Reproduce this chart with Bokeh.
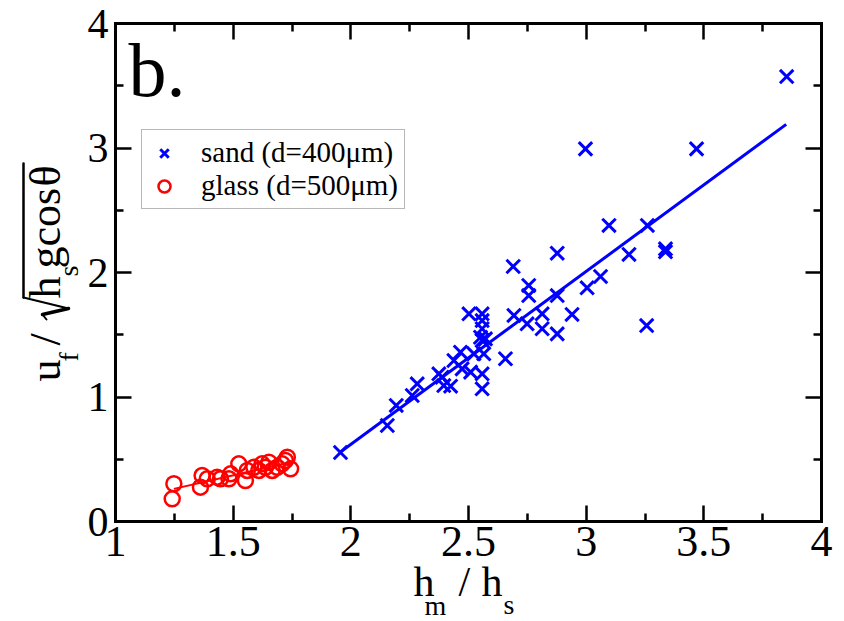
import math
from bokeh.plotting import figure
from bokeh.models import Range1d, LinearAxis, FixedTicker, Label, Legend, LegendItem, Arrow
from bokeh.embed import file_html
from bokeh.resources import INLINE

FONT = "Liberation Serif"

# ---- data ----
sand_x = [1.956, 2.155, 2.193, 2.261, 2.282, 2.374, 2.388, 2.395, 2.424, 2.438, 2.466, 2.473,
          2.509, 2.523, 2.551, 2.558, 2.572, 2.558, 2.558, 2.502, 2.558, 2.558, 2.558, 2.565,
          2.657, 2.693, 2.690, 2.749, 2.756, 2.756, 2.813, 2.813, 2.877, 2.877, 2.877, 2.940,
          2.997, 3.004, 3.061, 3.097, 3.182, 3.260, 3.257, 3.337, 3.337, 3.469, 3.852]
sand_y = [0.554, 0.771, 0.932, 1.012, 1.106, 1.186, 1.159, 1.092, 1.087, 1.293, 1.360, 1.226,
          1.200, 1.347, 1.480, 1.454, 1.467, 1.548, 1.614, 1.668, 1.668, 1.186, 1.066, 1.347,
          1.307, 1.655, 2.048, 1.588, 1.896, 1.815, 1.668, 1.548, 1.507, 1.815, 2.155, 1.663,
          2.993, 1.877, 1.968, 2.378, 2.145, 2.378, 1.574, 2.166, 2.190, 2.993, 3.574]
glass_x = [1.241, 1.248, 1.361, 1.368, 1.390, 1.432, 1.446, 1.482, 1.489, 1.524, 1.552, 1.560,
           1.588, 1.609, 1.623, 1.637, 1.652, 1.666, 1.687, 1.708, 1.722, 1.730, 1.744]
glass_y = [0.182, 0.303, 0.276, 0.369, 0.343, 0.356, 0.343, 0.343, 0.383, 0.463, 0.329, 0.410,
           0.436, 0.410, 0.463, 0.436, 0.476, 0.410, 0.436, 0.463, 0.490, 0.516, 0.423]
sand_fit_x = [1.95, 3.85]
sand_fit_y = [0.55, 3.19]
glass_fit_x = [1.248, 1.744]
glass_fit_y = [0.262, 0.476]

x_ticks = [1, 1.5, 2, 2.5, 3, 3.5, 4]
x_tick_labels = ["1", "1.5", "2", "2.5", "3", "3.5", "4"]
x_minor = [1.25, 1.75, 2.25, 2.75, 3.25, 3.75]
y_ticks = [0, 1, 2, 3, 4]
y_tick_labels = ["0", "1", "2", "3", "4"]
y_minor = [0.5, 1.5, 2.5, 3.5]
X_LO, X_HI, Y_LO, Y_HI = 1, 4, 0, 4

# ---- geometry: where the axis box sits on the 844x621 canvas ----
W, H = 844, 621
PX0, PX1, PY0, PY1 = 115, 821, 521, 23
KX = (X_HI - X_LO) / (PX1 - PX0)
KY = (Y_HI - Y_LO) / (PY0 - PY1)
def dx(px):
    return X_LO + (px - PX0) * KX
def dy(py):
    return Y_LO + (PY0 - py) * KY

p = figure(width=W, height=H, x_range=Range1d(dx(0), dx(W)), y_range=Range1d(dy(H), dy(0)),
           output_backend="svg", toolbar_location=None, min_border=0)
p.title.visible = False
p.grid.visible = False
p.outline_line_color = None
p.background_fill_color = "white"
p.border_fill_color = "white"

p.add_layout(LinearAxis(), "above")
p.add_layout(LinearAxis(), "right")

p.below[0].fixed_location = Y_LO
p.above[0].fixed_location = Y_HI
p.left[0].fixed_location = X_LO
p.right[0].fixed_location = X_HI

for ax in p.xaxis:
    ax.ticker = FixedTicker(ticks=x_ticks, minor_ticks=x_minor)
    ax.major_label_overrides = dict(zip(x_ticks, x_tick_labels))
    ax.bounds = (X_LO, X_HI)
for ax in p.yaxis:
    ax.ticker = FixedTicker(ticks=y_ticks, minor_ticks=y_minor)
    ax.major_label_overrides = dict(zip(y_ticks, y_tick_labels))
    ax.bounds = (Y_LO, Y_HI)

for ax in p.axis:
    ax.axis_line_width = 3
    ax.axis_line_color = "black"
    ax.axis_line_cap = "square"
    ax.major_tick_line_width = 2.5
    ax.minor_tick_line_width = 2.5
    ax.major_tick_in = 16
    ax.major_tick_out = 0
    ax.minor_tick_in = 8
    ax.minor_tick_out = 0
    ax.major_label_text_font = FONT
    ax.major_label_text_font_size = "44px"
    ax.major_label_text_color = "black"

p.left[0].major_label_text_font_size = "42px"
p.above[0].major_label_text_color = None
p.right[0].major_label_text_color = None
p.below[0].major_label_standoff = 5
p.left[0].major_label_standoff = 7

# ---- marks ----
p.line(sand_fit_x, sand_fit_y, line_color="blue", line_width=3)
p.line(glass_fit_x, glass_fit_y, line_color="red", line_width=2)
r_sand = p.scatter(sand_x, sand_y, marker="x", size=19, line_color="blue", line_width=3)
r_glass = p.scatter(glass_x, glass_y, marker="circle", size=15, fill_color=None,
                    line_color="red", line_width=2.5)

legend = Legend(items=[LegendItem(label="sand (d=400μm)", renderers=[r_sand]),
                       LegendItem(label="glass (d=500μm)", renderers=[r_glass])],
                location=(141, H - 209), label_text_font=FONT, label_text_font_size="29px",
                label_text_color="black", border_line_color="#707070", border_line_width=1.5,
                background_fill_alpha=1, padding=6, margin=0, spacing=0,
                glyph_width=32, glyph_height=30, label_standoff=21, label_height=30)
p.add_layout(legend)

# Label anchors sit on the middle of the text box; shift so the baseline lands where wanted
BASE = 0.3375
def lab(text, px, py, size):
    p.add_layout(Label(x=dx(px), y=dy(py - BASE * size), text=text, text_font=FONT,
                       text_font_size=f"{size}px", text_align="left",
                       text_baseline="alphabetic", text_color="black"))

def vlab(text, base_px, start_py, size):
    p.add_layout(Label(x=dx(base_px - BASE * size), y=dy(start_py), text=text, text_font=FONT,
                       text_font_size=f"{size}px", angle=math.pi / 2, text_align="left",
                       text_baseline="alphabetic", text_color="black"))

def stroke(p0, p1, w):
    p.add_layout(Arrow(end=None, x_start=dx(p0[0]), y_start=dy(p0[1]),
                       x_end=dx(p1[0]), y_end=dy(p1[1]),
                       line_width=w, line_color="black", line_cap="round"))

lab("b.", 128, 95, 76)

# x axis label: h_m / h_s
lab("h", 413, 596, 42)
lab("m", 424, 614, 28)
lab("/", 458, 596, 42)
lab("h", 481, 596, 42)
lab("s", 503, 613, 28)

# y axis label: u_f / sqrt(h_s g cos theta), reading upward
vlab("u", 60, 381, 44)
vlab("f", 77, 361, 28)
vlab("/", 60, 345, 44)
# radical sign and its bar
stroke((46, 319), (42, 314), 2)
stroke((42, 314), (68, 308), 3.5)
stroke((68, 308), (23, 297), 2)
stroke((23, 297), (23, 163), 2.5)
vlab("h", 60, 298, 44)
vlab("s", 77, 276, 28)
vlab("gcos", 60, 268, 44)
vlab("θ", 60, 186, 44)

open("out.html", "w").write(file_html(p, INLINE))
